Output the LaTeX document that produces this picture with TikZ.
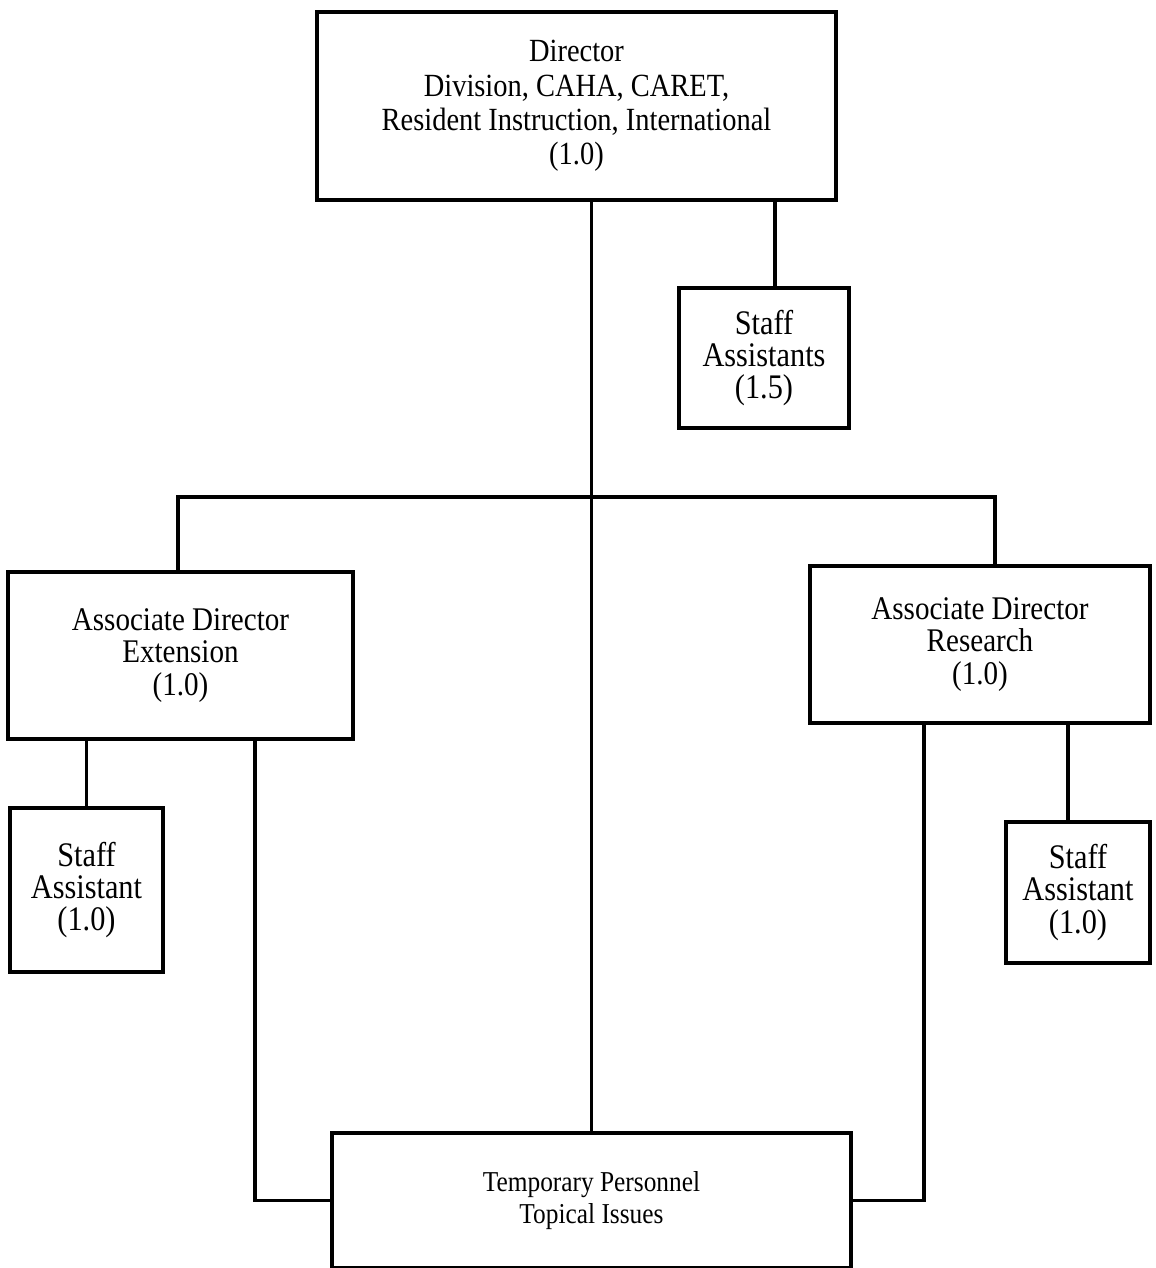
\documentclass[tikz,border=0pt]{standalone}
\usepackage{fontspec}
\setmainfont[FakeStretch=0.88]{Liberation Serif}
\usepackage{tikz}
\usetikzlibrary{positioning}

\begin{document}
\begin{tikzpicture}[x=0.1mm, y=-0.1mm,
                    box/.style={draw, line width=1.2pt, align=center, inner sep=0pt,
                                font=\fontsize{9.4}{9.2}\selectfont},
                    link/.style={line width=1pt}]
                  \useasboundingbox (0,0) rectangle (1155,1268);

                  \node[box, minimum width=51.9mm, minimum height=18.8mm, font=\fontsize{9.2}{9.8}\selectfont] (director) at (576.5,106)
                      {Director\\Division, CAHA, CARET,\\Resident Instruction, International\\(1.0)};
                  \node[box, minimum width=17mm, minimum height=14mm, font=\fontsize{9.8}{9.2}\selectfont] (staffA) at (764,358) {Staff\\Assistants\\(1.5)};
                  \node[box, minimum width=34.5mm, minimum height=16.7mm] (extension) at (180.5,655.5) {Associate Director\\Extension\\(1.0)};
                  \node[box, minimum width=34mm, minimum height=15.7mm] (research) at (980,644.5) {Associate Director\\Research\\(1.0)};
                  \node[box, minimum width=15.3mm, minimum height=16.4mm, font=\fontsize{9.8}{9.2}\selectfont] (staffE) at (86.5,890) {Staff\\Assistant\\(1.0)};
                  \node[box, minimum width=14.4mm, minimum height=14.1mm, font=\fontsize{9.8}{9.2}\selectfont] (staffR) at (1078,892.5) {Staff\\Assistant\\(1.0)};
                  \node[box, minimum width=51.9mm, minimum height=13.5mm, font=\fontsize{8.2}{9}\selectfont] (temp) at (591.5,1200.5) {Temporary Personnel\\Topical Issues};

                  \coordinate (barL) at (178,497);
                  \coordinate (barR) at (995,497);
                  \coordinate (saLink) at (775,0);
                  \coordinate (extLeg) at (255,0);
                  \coordinate (resLeg) at (924,0);
                  \coordinate (srLink) at (1068,0);

                  \draw[link] (temp.north |- director.south) -- (temp.north);
                  \draw[link] (barL |- extension.north) -- (barL) -- (barR) -- (barR |- research.north);
                  \draw[link] (saLink |- director.south) -- (saLink |- staffA.north);
                  \draw[link] (staffE.north |- extension.south) -- (staffE.north);
                  \draw[link] (extLeg |- extension.south) |- (temp.west);
                  \draw[link] (resLeg |- research.south) |- (temp.east);
                  \draw[link] (srLink |- research.south) -- (srLink |- staffR.north);
              \end{tikzpicture}
\end{document}
